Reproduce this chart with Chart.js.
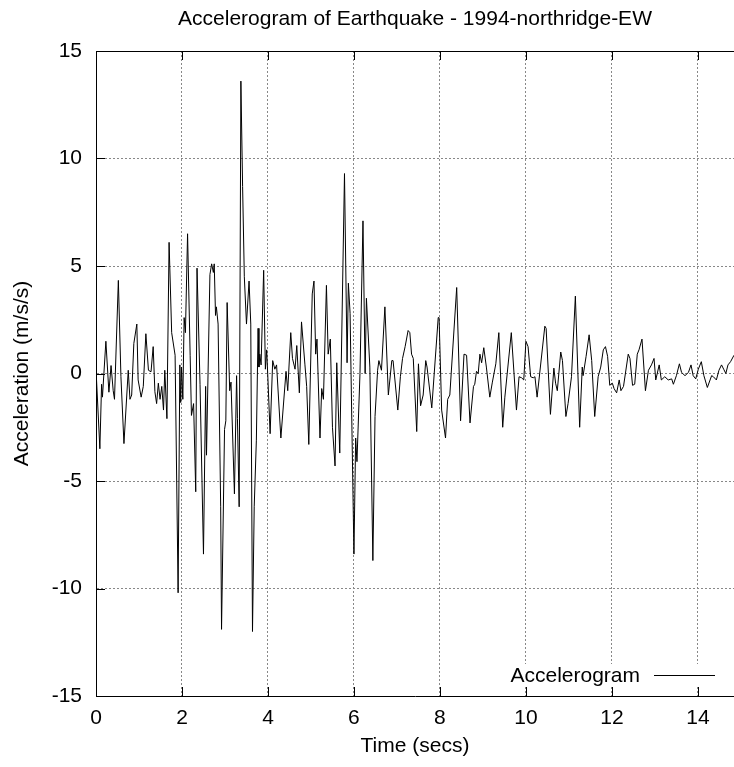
<!DOCTYPE html>
<html>
<head>
<meta charset="utf-8">
<script src="https://cdn.jsdelivr.net/npm/chart.js@4.4.0/dist/chart.umd.min.js"></script>
<style>
html,body{margin:0;padding:0;background:#fff;}
#wrap{width:734px;height:767px;}
</style>
</head>
<body>
<div id="wrap"><canvas id="c" width="734" height="767"></canvas></div>
<script>
const chartTitle = 'Accelerogram of Earthquake - 1994-northridge-EW';
const xAxisTitle = 'Time (secs)';
const yAxisTitle = 'Acceleration (m/s/s)';
const seriesLabel = 'Accelerogram';
const xTickValues = [0, 2, 4, 6, 8, 10, 12, 14];
const yTickValues = [-15, -10, -5, 0, 5, 10, 15];
const xMin = 0, xMax = 14.84, yMin = -15, yMax = 15;

const timeSecs = [
  0.00, 0.09, 0.13, 0.15, 0.23, 0.30, 0.35, 0.40, 0.43, 0.52, 0.58, 0.65, 0.75, 0.79, 0.83, 0.88, 0.95, 0.98,
  1.05, 1.10, 1.16, 1.22, 1.28, 1.33, 1.37, 1.41, 1.45, 1.49, 1.53, 1.57, 1.60, 1.65, 1.70, 1.76, 1.84, 1.91,
  1.95, 1.97, 1.99, 2.02, 2.05, 2.08, 2.13, 2.19, 2.22, 2.27, 2.32, 2.35, 2.42, 2.50, 2.55, 2.57, 2.65, 2.69,
  2.73, 2.75, 2.78, 2.80, 2.84, 2.90, 2.92, 2.99, 3.02, 3.05, 3.11, 3.14, 3.22, 3.27, 3.29, 3.33, 3.37, 3.41,
  3.45, 3.50, 3.56, 3.60, 3.64, 3.68, 3.73, 3.77, 3.79, 3.81, 3.84, 3.90, 3.94, 3.97, 4.00, 4.05, 4.11, 4.16,
  4.20, 4.30, 4.42, 4.46, 4.53, 4.57, 4.63, 4.67, 4.73, 4.78, 4.86, 4.90, 4.95, 5.03, 5.07, 5.11, 5.14, 5.21,
  5.25, 5.29, 5.36, 5.40, 5.45, 5.50, 5.56, 5.60, 5.67, 5.78, 5.84, 5.87, 5.91, 6.00, 6.04, 6.07, 6.14, 6.21,
  6.26, 6.29, 6.37, 6.44, 6.49, 6.55, 6.58, 6.64, 6.72, 6.80, 6.88, 6.91, 7.02, 7.08, 7.13, 7.19, 7.26, 7.30,
  7.34, 7.38, 7.46, 7.50, 7.55, 7.61, 7.67, 7.70, 7.81, 7.96, 7.98, 8.04, 8.13, 8.18, 8.23, 8.39, 8.48, 8.56,
  8.62, 8.70, 8.78, 8.81, 8.85, 8.89, 8.93, 8.97, 9.02, 9.08, 9.16, 9.22, 9.30, 9.37, 9.46, 9.51, 9.66, 9.78,
  9.84, 9.90, 9.95, 10.00, 10.05, 10.11, 10.17, 10.21, 10.26, 10.44, 10.47, 10.57, 10.65, 10.69, 10.73, 10.81,
  10.85, 10.93, 10.98, 11.06, 11.15, 11.25, 11.31, 11.33, 11.40, 11.47, 11.53, 11.60, 11.68, 11.74, 11.80,
  11.85, 11.90, 11.95, 12.01, 12.05, 12.11, 12.17, 12.21, 12.27, 12.38, 12.42, 12.48, 12.53, 12.59, 12.63,
  12.70, 12.78, 12.85, 12.92, 12.98, 13.02, 13.10, 13.15, 13.23, 13.31, 13.39, 13.43, 13.50, 13.57, 13.62,
  13.70, 13.78, 13.84, 13.89, 13.95, 14.01, 14.08, 14.14, 14.22, 14.32, 14.36, 14.43, 14.49, 14.55, 14.60,
  14.65, 14.70, 14.76, 14.84
];

const accelValues = [
  0.2, -3.5, -0.5, -1.1, 1.5, -0.87, 0.37, -0.8, -1.2, 4.33, -0.15, -3.26, 0.15, -1.2, -1.0, 1.4, 2.3, -0.3,
  -1.1, -0.6, 1.85, 0.15, 0.08, 1.25, -0.85, -1.4, -0.45, -1.2, -0.6, -1.7, 0.15, -2.1, 6.1, 1.9, 0.85, -10.2,
  0.4, -1.35, 0.3, -1.2, 2.6, 1.9, 6.5, 0.85, -1.95, -1.4, -5.5, 4.9, -0.5, -8.4, -0.6, -3.8, 4.6, 5.1,
  4.7, 5.1, 2.7, 3.1, 2.3, -6.2, -11.9, -2.6, -2.2, 3.3, -0.8, -0.4, -5.6, -0.1, -2.1, -6.2, 13.6, 8.7,
  4.5, 2.3, 4.3, 2.3, -12.0, -6.2, -3.1, 2.1, 0.3, 0.9, 0.4, 4.8, 0.2, 1.1, -0.3, -2.8, 0.6, 0.2,
  0.4, -3.0, 0.1, -0.8, 1.9, 0.7, 0.2, 1.3, -0.9, 2.4, 0.4, -0.6, -3.3, 3.7, 4.3, 0.9, 1.6, -3.0,
  -0.7, -1.2, 4.1, 0.9, 1.6, -2.5, -4.3, 0.5, -3.7, 9.3, 0.5, 4.2, 2.8, -8.4, -3.0, -4.1, 0.0, 7.1,
  0.0, 3.5, 0.3, -8.7, -2.0, 0.15, 0.6, 0.15, 3.1, -1.0, 0.6, 0.6, -1.7, -0.15, 0.7, 1.25, 2.0, 1.9,
  0.9, 0.7, -2.7, 0.45, -1.5, -1.0, 0.6, 0.3, -1.6, 2.6, 2.6, -1.7, -3.0, -1.2, -1.0, 4.0, -2.2, 0.9,
  0.85, -2.3, -0.6, -0.5, 0.1, 0.0, 0.9, 0.5, 1.2, 0.3, -1.1, -0.4, 0.45, 1.9, -2.5, -1.1, 1.9, -1.7,
  -0.15, -0.2, -0.3, 1.5, 1.25, -0.15, -0.2, -0.15, -1.1, 2.2, 2.1, -1.9, 0.25, -0.45, -0.8, 1.0,
  0.6, -2.0, -1.4, -0.15, 3.6, -2.5, 0.3, -0.1, 0.8, 1.8, 0.6, -2.0, -0.15, 0.3, 1.1,
  1.25, 0.8, -0.55, -0.45, -0.7, -0.9, -0.3, -0.8, -0.6, 0.9, 0.7, -0.55, -0.5, 0.9, 1.1,
  1.6, -0.8, 0.15, 0.4, 0.7, -0.3, 0.4, -0.3, -0.15, -0.3, -0.25, -0.5, -0.1, 0.45, 0.05,
  -0.1, 0.05, 0.4, -0.1, -0.25, 0.2, 0.55, -0.1, -0.65, -0.1, -0.15, -0.3, 0.15, 0.4, 0.2,
  0.0, 0.4, 0.55, 0.85
];

const FONT = "'Liberation Sans', Arial, Helvetica, sans-serif";
const FS = 21;

const gnuplotFrame = {
  id: 'gnuplotFrame',
  afterDatasetsDraw(chart) {
    const {ctx, chartArea: a, scales: {x, y}} = chart;
    ctx.save();
    ctx.strokeStyle = '#000';
    ctx.lineWidth = 1;
    // top border
    ctx.beginPath();
    ctx.moveTo(a.left, Math.round(a.top) + 0.5);
    ctx.lineTo(a.right, Math.round(a.top) + 0.5);
    ctx.stroke();
    // inward tick marks (gnuplot style, mirrored on top)
    const L = 9;
    ctx.beginPath();
    x.ticks.forEach(t => {
      const px = Math.round(x.getPixelForValue(t.value)) + 0.5;
      ctx.moveTo(px, a.bottom); ctx.lineTo(px, a.bottom - L);
      ctx.moveTo(px, a.top); ctx.lineTo(px, a.top + L);
    });
    y.ticks.forEach(t => {
      const py = Math.round(y.getPixelForValue(t.value)) + 0.5;
      ctx.moveTo(a.left, py); ctx.lineTo(a.left + L, py);
    });
    ctx.stroke();
    // key box (opaque, no frame) in the lower right corner
    const ds = chart.data.datasets[0];
    const keyY = a.bottom - 20.5;
    ctx.fillStyle = '#fff';
    ctx.fillRect(a.right - 234, a.bottom - 32, 234, 22);
    ctx.font = FS + 'px ' + FONT;
    ctx.fillStyle = '#000';
    ctx.textAlign = 'right';
    ctx.textBaseline = 'middle';
    ctx.fillText(ds.label, a.right - 94, keyY + 1);
    ctx.beginPath();
    ctx.strokeStyle = ds.borderColor;
    ctx.moveTo(a.right - 80, keyY);
    ctx.lineTo(a.right - 19, keyY);
    ctx.stroke();
    ctx.restore();
  }
};

const points = timeSecs.map((t, i) => ({x: t, y: accelValues[i]}));

new Chart(document.getElementById('c'), {
  type: 'line',
  data: {
    datasets: [{
      label: seriesLabel,
      data: points,
      borderColor: '#000',
      borderWidth: 1,
      pointRadius: 0,
      tension: 0,
      fill: false
    }]
  },
  options: {
    responsive: false,
    animation: false,
    devicePixelRatio: 1,
    layout: {padding: 0},
    plugins: {
      legend: {display: false},
      tooltip: {enabled: false},
      title: {
        display: true,
        text: chartTitle,
        fullSize: false,
        color: '#000',
        font: {family: FONT, size: FS, weight: 'normal', lineHeight: 1.2},
        padding: {top: 7, bottom: 18.8}
      }
    },
    scales: {
      x: {
        type: 'linear',
        min: xMin,
        max: xMax,
        afterBuildTicks: s => { s.ticks = xTickValues.map(v => ({value: v})); },
        afterFit: s => { s.height = 71; },
        ticks: {color: '#000', font: {family: FONT, size: FS}, padding: 10, maxRotation: 0, autoSkip: false},
        grid: {color: '#888', lineWidth: 1, drawTicks: false},
        border: {display: true, color: '#000', width: 1, dash: [2, 2]},
        title: {display: true, text: xAxisTitle, color: '#000', font: {family: FONT, size: FS}, padding: {top: 0, bottom: 8.4}}
      },
      y: {
        type: 'linear',
        min: yMin,
        max: yMax,
        afterBuildTicks: s => { s.ticks = yTickValues.map(v => ({value: v})); },
        afterFit: s => { s.width = 96; },
        ticks: {color: '#000', font: {family: FONT, size: FS}, padding: 14, autoSkip: false},
        grid: {color: '#888', lineWidth: 1, drawTicks: false},
        border: {display: true, color: '#000', width: 1, dash: [2, 2]},
        title: {display: true, text: yAxisTitle, color: '#000', font: {family: FONT, size: FS}, padding: {top: 10, bottom: 0}}
      }
    }
  },
  plugins: [gnuplotFrame]
});
</script>
</body>
</html>
